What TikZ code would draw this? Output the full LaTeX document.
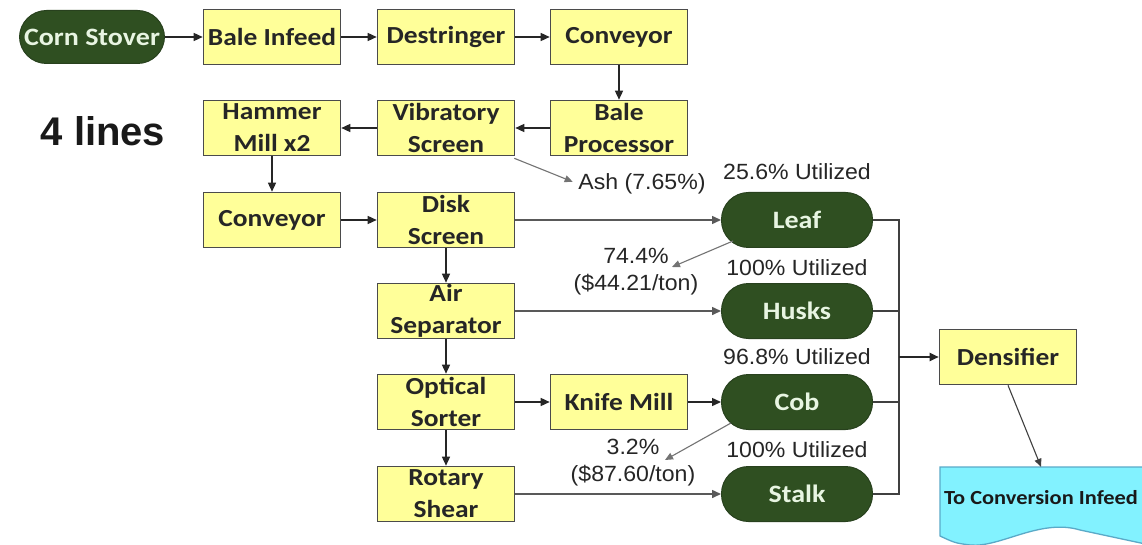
\documentclass[tikz,border=0pt]{standalone}
\usepackage{fontspec}
\setmainfont{Liberation Sans}
\newfontfamily\boxfont[FakeStretch=1.12]{Carlito}
\newfontfamily\lblfont[FakeStretch=1.05]{Liberation Sans}
\usetikzlibrary{arrows.meta,calc}
\definecolor{boxfill}{RGB}{255,255,153}
\definecolor{boxline}{RGB}{75,75,75}
\definecolor{pillfill}{RGB}{47,79,33}
\definecolor{pillline}{RGB}{40,65,30}
\definecolor{pilltext}{RGB}{232,245,226}
\definecolor{docfill}{RGB}{130,242,255}
\definecolor{docline}{RGB}{90,170,200}
\begin{document}
\begin{tikzpicture}[x=1pt,y=-1pt,
 proc/.style={draw=boxline, line width=1.6pt, fill=boxfill, minimum width=137, minimum height=55, inner sep=0, font=\boxfont\bfseries\fontsize{24.5}{32}\selectfont, align=center, text=black!85},
 pill/.style={draw=pillline, line width=1pt, fill=pillfill, rounded corners=27, minimum width=151, minimum height=55, inner sep=0, font=\boxfont\bfseries\fontsize{25}{28}\selectfont, text=pilltext},
 lbl/.style={font=\lblfont\fontsize{22}{27}\selectfont, text=black!85, align=center, inner sep=0},
 flow/.style={draw=black!85, line width=1.4pt, -{Triangle[length=9pt,width=8pt]}},
 flowgray/.style={draw=black!65, line width=1.5pt, -{Triangle[length=9pt,width=8pt]}},
 thinarrow/.style={draw=black!55, line width=1.1pt, -{Triangle[length=8pt,width=7pt]}},
 bus/.style={draw=black!75, line width=1.4pt},
]
\useasboundingbox (0,0) rectangle (1142,545);
\fill[white] (0,0) rectangle (1142,545);
\clip (0,0) rectangle (1142,545);

% top row
\node[pill, minimum width=145, minimum height=53] (corn) at (92,37) {Corn Stover};
\node[proc] (bale) at (272,37) {Bale Infeed};
\node[proc] (destr) at (446,37) {Destringer};
\node[proc] (conv1) at (619,37) {Conveyor};
% second row
\node[proc] (balep) at (619,128) {Bale\\Processor};
\node[proc] (vib) at (446,128) {Vibratory\\Screen};
\node[proc] (ham) at (272,128) {Hammer\\Mill x2};
\node[font=\bfseries\fontsize{40}{42}\selectfont, text=black!90, inner sep=0] (lines) at (103,131) {4 lines};
% third row
\node[proc] (conv2) at (272,220) {Conveyor};
\node[proc] (disk) at (446,220) {Disk\\Screen};
\node[proc] (air) at (446,311) {Air\\Separator};
\node[proc] (opt) at (446,402) {Optical\\Sorter};
\node[proc] (knife) at (619,402) {Knife Mill};
\node[proc] (rot) at (446,494) {Rotary\\Shear};
% product pills
\node[pill] (leaf) at (797,220) {Leaf};
\node[pill] (husks) at (797,311) {Husks};
\node[pill] (cob) at (797,402) {Cob};
\node[pill] (stalk) at (797,494) {Stalk};
% labels
\node[lbl] (ash) at (642,184) {Ash (7.65\%)};
\node[lbl] (u1) at (797,172) {25.6\% Utilized};
\node[lbl] (u2) at (797,268) {100\% Utilized};
\node[lbl] (u3) at (797,357) {96.8\% Utilized};
\node[lbl] (u4) at (797,450) {100\% Utilized};
\node[lbl] (l74) at (636,272) {74.4\%\\(\$44.21/ton)};
\node[lbl] (l32) at (633,463) {3.2\%\\(\$87.60/ton)};
% densifier and document
\node[proc] (dens) at (1008,357) {Densifier};
\fill[docfill] (940,467) -- (1150,467) -- (1150,545) -- (1080,530)
  .. controls (1040,518) and (1000,548) .. (970,545) .. controls (955,543) .. (940,536) -- cycle;
\draw[docline, line width=1.3pt] (1150,467) -- (940,467) -- (940,536)
  .. controls (955,543) .. (970,545) .. controls (1000,548) and (1040,518) .. (1080,530) -- (1150,545);
\node[font=\boxfont\bfseries\fontsize{20}{24}\selectfont, text=black!90, minimum width=202, minimum height=62, inner sep=0] (conv) at (1041,498) {To Conversion Infeed};

% connectors
\draw[flow] (corn) -- (bale);
\draw[flow] (bale) -- (destr);
\draw[flow] (destr) -- (conv1);
\draw[flow] (conv1) -- (balep);
\draw[flow] (balep) -- (vib);
\draw[flow] (vib) -- (ham);
\draw[flow] (ham) -- (conv2);
\draw[flow] (conv2) -- (disk);
\draw[flow] (disk) -- (air);
\draw[flow] (air) -- (opt);
\draw[flow] (opt) -- (rot);
\draw[flow] (opt) -- (knife);
\draw[flow] (knife) -- (cob);
\draw[flowgray] (disk) -- (leaf);
\draw[flowgray] (air) -- (husks);
\draw[flowgray] (rot) -- (stalk);

\coordinate (busT) at (899,220);
\coordinate (busM) at (899,357);
\coordinate (busB) at (899,494);
\draw[bus] (leaf.east) -- (busT) -- (busB) -- (stalk.east);
\draw[bus] (husks.east) -- (husks.east -| busT);
\draw[bus] (cob.east) -- (cob.east -| busT);
\draw[flow, line width=1.8pt] (busM) -- (dens.west);

\draw[thinarrow, shorten >=6pt] ($(vib.south east)+(-1,2)$) -- (ash.west);
\coordinate (a74) at (672,267);
\draw[thinarrow] ($(leaf.south west)+(12,-7)$) -- (a74);
\coordinate (a32) at (665,460);
\draw[thinarrow] ($(cob.south west)+(10,-7)$) -- (a32);
\draw[thinarrow, draw=black!75] (dens.south) -- (conv.north);
\end{tikzpicture}
\end{document}
